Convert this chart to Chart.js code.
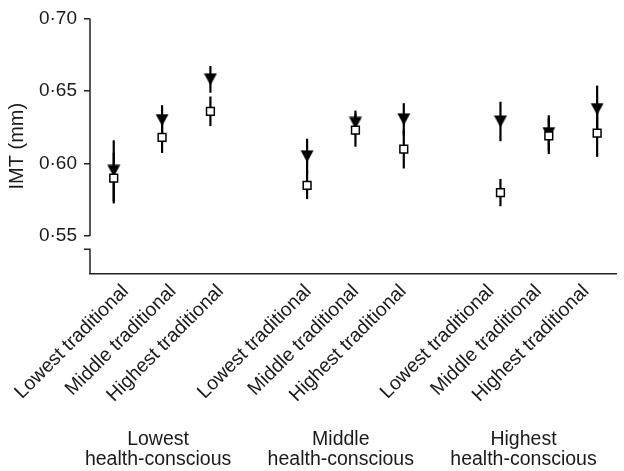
<!DOCTYPE html>
<html>
<head>
<meta charset="utf-8">
<script src="https://cdn.jsdelivr.net/npm/chart.js@4"></script>
<style>
  html, body { margin: 0; padding: 0; background: #fff; }
  #wrap { width: 624px; height: 471px; }
</style>
</head>
<body>
<div id="wrap"><canvas id="imtChart" width="624" height="471"></canvas></div>
<script>
// groups and categories
var healthGroups = [["Lowest", "health-conscious"], ["Middle", "health-conscious"], ["Highest", "health-conscious"]];
var tradLevels = ["Lowest traditional", "Middle traditional", "Highest traditional"];

// open squares (mean and half error bar), 3 groups x 3 levels
var openMean = [0.590, 0.618, 0.636, 0.585, 0.623, 0.610, 0.580, 0.619, 0.621];
var openErr = [0.0175, 0.0107, 0.0102, 0.0095, 0.0114, 0.0134, 0.0094, 0.0125, 0.0164];

// filled triangles
var filledMean = [0.595, 0.630, 0.658, 0.605, 0.628, 0.6305, 0.629, 0.621, 0.6375];
var filledErr = [0.021, 0.0102, 0.0092, 0.0121, 0.0085, 0.0111, 0.0136, 0.0123, 0.0162];

var yTicks = [0.55, 0.60, 0.65, 0.70];
var yBreak = 0.541;

var FONT = "'Liberation Sans', Arial, sans-serif";
var INK = "#1a1a1a";

// slot on the x axis: one empty slot between groups
function slot(i) { return Math.floor(i / 3) * 4 + (i % 3) + 1; }
// label slots sit a little tighter between groups than the marks
function labelSlot(i) { return Math.floor(i / 3) * 3.85 + (i % 3) + 1; }

function points(means) {
  return means.map(function (m, i) { return { x: slot(i), y: m }; });
}

// down-pointing filled triangle marker
var tri = document.createElement("canvas");
tri.width = 14; tri.height = 13;
var tc = tri.getContext("2d");
tc.fillStyle = "#000";
tc.beginPath();
tc.moveTo(0.5, 0.5); tc.lineTo(13.5, 0.5); tc.lineTo(7, 12.5);
tc.closePath();
tc.fill();

var errorBars = {
  id: "errorBars",
  beforeDatasetsDraw: function (chart) {
    var ctx = chart.ctx, xs = chart.scales.x, ys = chart.scales.y;
    var sets = [[openMean, openErr], [filledMean, filledErr]];
    ctx.save();
    ctx.strokeStyle = "#000";
    ctx.lineWidth = 2.2;
    sets.forEach(function (s) {
      s[0].forEach(function (m, i) {
        var px = xs.getPixelForValue(slot(i));
        ctx.beginPath();
        ctx.moveTo(px, ys.getPixelForValue(m + s[1][i]));
        ctx.lineTo(px, ys.getPixelForValue(m - s[1][i]));
        ctx.stroke();
      });
    });
    ctx.restore();
  }
};

var axisExtras = {
  id: "axisExtras",
  afterDraw: function (chart) {
    var ctx = chart.ctx, ys = chart.scales.y, x2 = chart.scales.x2;
    var area = chart.chartArea;
    var ax = area.left;
    ctx.save();
    ctx.strokeStyle = "#222";
    ctx.lineWidth = 1.5;
    // broken y axis
    ctx.beginPath();
    ctx.moveTo(ax, ys.getPixelForValue(yTicks[yTicks.length - 1]));
    ctx.lineTo(ax, ys.getPixelForValue(yTicks[0]));
    var yb = ys.getPixelForValue(yBreak);
    ctx.moveTo(ax - 6, yb);
    ctx.lineTo(ax, yb);
    ctx.lineTo(ax, area.bottom);
    ctx.stroke();
    // group labels
    ctx.fillStyle = INK;
    ctx.font = "19.5px " + FONT;
    ctx.textAlign = "center";
    ctx.textBaseline = "alphabetic";
    healthGroups.forEach(function (g, k) {
      var cx = x2.getPixelForValue(labelSlot(k * 3 + 1)) - 15;
      ctx.fillText(g[0], cx, 445);
      ctx.fillText(g[1], cx, 465);
    });
    ctx.restore();
  }
};

Chart.defaults.font.family = FONT;
Chart.defaults.color = INK;

new Chart("imtChart", {
  type: "scatter",
  data: {
    datasets: [{
      label: "open",
      data: points(openMean),
      pointStyle: "rect",
      pointRadius: 5.5,
      pointHoverRadius: 5.5,
      backgroundColor: "#fff",
      borderColor: "#000",
      borderWidth: 1.5
    }, {
      label: "filled",
      data: points(filledMean),
      pointStyle: tri,
      pointRadius: 7,
      pointHoverRadius: 7
    }]
  },
  plugins: [errorBars, axisExtras],
  options: {
    responsive: false,
    animation: false,
    events: [],
    layout: { padding: { top: 16, right: 2, left: 0, bottom: 0 } },
    plugins: { legend: { display: false }, tooltip: { enabled: false } },
    scales: {
      x: {
        type: "linear",
        display: false,
        min: 0.509,
        max: 11.39
      },
      x2: {
        type: "linear",
        position: "bottom",
        min: 0.25,
        max: 11.333,
        afterBuildTicks: function (scale) {
          scale.ticks = tradLevels.concat(tradLevels, tradLevels).map(function (t, i) { return { value: labelSlot(i) }; });
        },
        afterFit: function (scale) { scale.height = 197; },
        grid: { display: false, drawTicks: false },
        border: { display: true, color: "#222", width: 1.5 },
        ticks: {
          autoSkip: false,
          minRotation: 45,
          maxRotation: 45,
          padding: 6,
          font: { size: 19.5 },
          color: INK,
          callback: function (v, i) { return tradLevels[i % 3]; }
        }
      },
      y: {
        min: 0.5239,
        max: 0.70,
        afterBuildTicks: function (scale) {
          scale.ticks = yTicks.map(function (v) { return { value: v }; });
        },
        afterFit: function (scale) { scale.width = 90; },
        grid: { drawOnChartArea: false, drawTicks: true, tickLength: 6, color: "#222", lineWidth: 1.5 },
        border: { display: false },
        ticks: {
          padding: 7,
          font: { size: 19 },
          color: INK,
          callback: function (v) { return v.toFixed(2).replace(".", "\u00b7"); }
        },
        title: {
          display: true,
          text: "IMT (mm)",
          font: { size: 20 },
          color: INK,
          padding: { top: 5, bottom: 0 }
        }
      }
    }
  }
});
</script>
</body>
</html>
